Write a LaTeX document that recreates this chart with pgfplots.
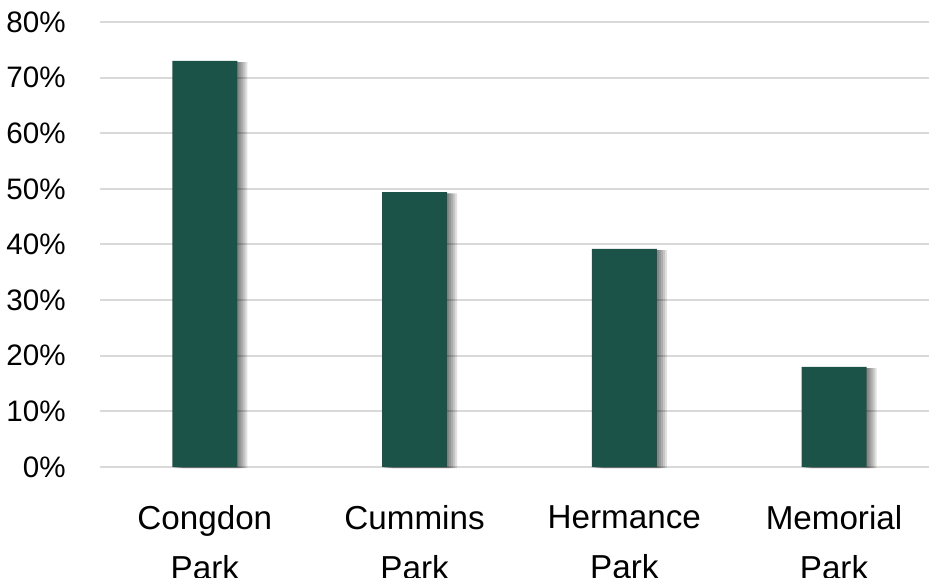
\documentclass[border=0pt]{standalone}
\usepackage{pgfplots}
\pgfplotsset{compat=1.18}
\usepackage{fontspec}
\setmainfont{Liberation Sans}
\definecolor{bargreen}{RGB}{27,83,72}
\definecolor{gridgray}{RGB}{217,217,217}

\tikzset{
  soft/.style={preaction={fill=black, opacity=0.12,
    transform canvas={xshift=#1, yshift=-0.6pt}}},
}

\begin{document}
\begin{tikzpicture}
\begin{axis}[
  name=ax,
  scale only axis,
  width=414.5pt, height=222.5pt,
  xmin=-0.5, xmax=3.453,
  ymin=0, ymax=80,
  ytick={0,10,...,80},
  yticklabel={\pgfmathprintnumber{\tick}\%},
  /pgf/number format/assume math mode=true,
  xtick={0,1,2,3},
  xticklabels={{Congdon\\Park},{Cummins\\Park},{Hermance\\Park},{Memorial\\Park}},
  ymajorgrids,
  grid style={color=gridgray, line width=1pt},
  axis line style={draw=none},
  major tick length=0pt,
  yticklabel style={font=\fontsize{14.8}{17}\selectfont, anchor=east, inner sep=0pt, xshift=-17pt},
  xticklabel style={font=\fontsize{16.6}{25}\selectfont, align=center, anchor=north, inner sep=0pt, yshift=-19pt},
  clip=false,
]
\addplot[ybar, bar width=32.5pt, fill=bargreen, draw=none,
  soft=5pt, soft=4pt, soft=3pt, soft=2pt, soft=1pt]
  coordinates {(0,73.0) (1,49.4) (2,39.2) (3,18.0)};
\end{axis}
\pgfresetboundingbox
\useasboundingbox ([shift={(-50pt,-55pt)}]ax.south west) rectangle ([shift={(0pt,11pt)}]ax.north east);
\end{tikzpicture}
\end{document}
